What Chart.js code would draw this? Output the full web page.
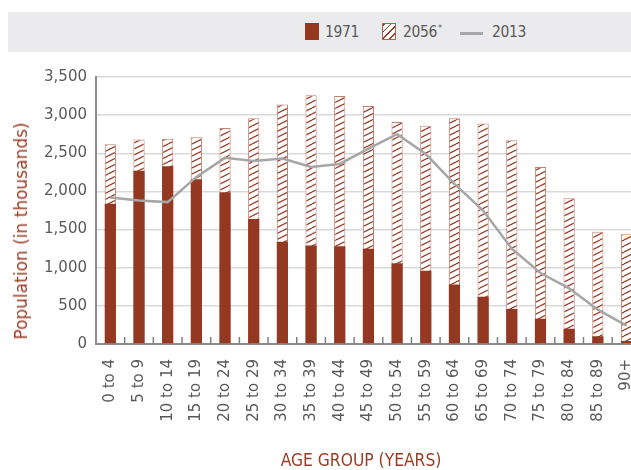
<!DOCTYPE html>
<html>
<head>
<meta charset="utf-8">
<script src="https://cdn.jsdelivr.net/npm/chart.js@4/dist/chart.umd.min.js"></script>
<style>
    html, body { margin: 0; padding: 0; background: #fff; overflow: hidden; }
    #wrap { position: relative; width: 631px; height: 470px; overflow: hidden; }
    #chart { position: absolute; left: 0; top: 0; }
    .legend-band { position: absolute; left: 8px; top: 12px; width: 640px; height: 40px; background: #ebebed; }
    .lg { position: absolute; top: 22px; height: 20px; line-height: 20px; font-family: "Liberation Sans Narrow", "DejaVu Sans Condensed", sans-serif; font-size: 15.5px; letter-spacing: -0.4px; color: #595959; white-space: nowrap; }
    .lg .ast { font-size: 9px; position: relative; top: -6px; left: 1px; }
    .sw-solid { position: absolute; left: 305px; top: 23px; width: 14px; height: 17px; background: #943822; }
    .sw-hatch { position: absolute; left: 382px; top: 23px; width: 12px; height: 15px; border: 1px solid #b0644f;
        background: repeating-linear-gradient(-45deg, #fff 0 3.5px, #9a3a22 3.5px 4.7px); }
    .sw-line { position: absolute; left: 460px; top: 32px; width: 23px; height: 2.5px; background: #a6a6a6; }
    .ytitle { position: absolute; left: 21px; top: 231px; transform: translate(-50%, -50%) rotate(-90deg);
        font-family: "DejaVu Sans", sans-serif; font-size: 17px; color: #9b3b24; white-space: nowrap; }
    .xtitle { position: absolute; left: 361px; top: 460px; transform: translate(-50%, -50%);
        font-family: "Liberation Sans Narrow", "DejaVu Sans Condensed", sans-serif; font-size: 17.3px; color: #9b3b24; white-space: nowrap; }
</style>
</head>
<body>
<div id="wrap">
    <canvas id="chart" width="660" height="470"></canvas>
    <div class="legend-band"></div>
    <div class="sw-solid"></div>
    <div class="lg" style="left:325px">1971</div>
    <div class="sw-hatch"></div>
    <div class="lg" style="left:403px">2056<span class="ast">*</span></div>
    <div class="sw-line"></div>
    <div class="lg" style="left:492px">2013</div>
    <div class="ytitle">Population (in thousands)</div>
    <div class="xtitle">AGE GROUP (YEARS)</div>
</div>
<script>
// age groups
const ageGroups = ['0 to 4', '5 to 9', '10 to 14', '15 to 19', '20 to 24', '25 to 29', '30 to 34',
    '35 to 39', '40 to 44', '45 to 49', '50 to 54', '55 to 59', '60 to 64', '65 to 69',
    '70 to 74', '75 to 79', '80 to 84', '85 to 89', '90+'];

// population in thousands
const pop1971 = [1840, 2270, 2330, 2160, 1990, 1640, 1340, 1290, 1280, 1250, 1060, 960, 780, 620, 460, 330, 200, 100, 40];
const pop2056 = [2620, 2680, 2690, 2710, 2830, 2960, 3140, 3260, 3250, 3120, 2910, 2860, 2960, 2890, 2670, 2320, 1910, 1470, 1440];
const pop2013 = [1920, 1880, 1860, 2190, 2440, 2400, 2430, 2320, 2360, 2560, 2750, 2490, 2100, 1750, 1250, 930, 730, 450, 240];

const yTicks = [0, 500, 1000, 1500, 2000, 2500, 3000, 3500];

// diagonal hatch for the 2056 bars
function makeHatch() {
    const c = document.createElement('canvas');
    c.width = 12;
    c.height = 6;
    const g = c.getContext('2d');
    g.fillStyle = '#ffffff';
    g.fillRect(0, 0, 12, 6);
    g.strokeStyle = '#9a3a22';
    g.lineWidth = 1.2;
    for (let k = -1; k <= 1; k++) {
        g.beginPath();
        g.moveTo(0, 6 + 6 * k);
        g.lineTo(12, 6 * k);
        g.stroke();
    }
    return g.createPattern(c, 'repeat');
}

// small tick marks pointing up from the x axis
const innerTicks = {
    id: 'innerTicks',
    afterDatasetsDraw(chart) {
        const xs = chart.scales.x;
        const area = chart.chartArea;
        const ctx = chart.ctx;
        const step = xs.width / ageGroups.length;
        ctx.save();
        ctx.strokeStyle = '#7f7f7f';
        ctx.lineWidth = 1.5;
        for (let i = 1; i < ageGroups.length; i++) {
            const px = xs.getPixelForValue(i) - step / 2;
            ctx.beginPath();
            ctx.moveTo(px, area.bottom);
            ctx.lineTo(px, area.bottom - 7);
            ctx.stroke();
        }
        ctx.restore();
    }
};

const ctx = document.getElementById('chart').getContext('2d');
new Chart(ctx, {
    data: {
        labels: ageGroups,
        datasets: [
            {
                type: 'line',
                label: '2013',
                data: pop2013,
                borderColor: '#a6a6a6',
                borderWidth: 2.5,
                pointRadius: 0,
                tension: 0,
                order: -1
            },
            {
                type: 'bar',
                label: '1971',
                data: pop1971,
                backgroundColor: '#943822',
                borderWidth: 0,
                grouped: false,
                barPercentage: 0.39,
                categoryPercentage: 1,
                order: 0
            },
            {
                type: 'bar',
                label: '2056',
                data: pop2056,
                backgroundColor: makeHatch(),
                borderColor: 'rgba(165, 75, 50, 0.7)',
                borderWidth: 1,
                grouped: false,
                barPercentage: 0.39,
                categoryPercentage: 1,
                order: 1
            }
        ]
    },
    options: {
        responsive: false,
        animation: false,
        layout: { padding: { top: 77, right: 19, left: 0, bottom: 0 } },
        plugins: {
            legend: { display: false },
            tooltip: { enabled: false }
        },
        scales: {
            x: {
                offset: true,
                grid: { display: false, drawTicks: false },
                border: { display: true, color: '#8c8c8c', width: 2 },
                ticks: {
                    minRotation: 90,
                    maxRotation: 90,
                    padding: 15,
                    color: '#595959',
                    font: { family: 'DejaVu Sans', size: 15 }
                },
                afterFit(scale) { scale.height = 126; }
            },
            y: {
                min: 0,
                max: 3500,
                afterBuildTicks(scale) { scale.ticks = yTicks.map(v => ({ value: v })); },
                grid: { color: '#d9d9d9', lineWidth: 1.5, drawTicks: false },
                border: { display: true, color: '#8c8c8c', width: 2 },
                ticks: {
                    padding: 9,
                    color: '#595959',
                    font: { family: 'DejaVu Sans', size: 15 },
                    callback: v => v.toLocaleString('en-US')
                },
                afterFit(scale) { scale.width = 96; }
            }
        }
    },
    plugins: [innerTicks]
});
</script>
</body>
</html>
